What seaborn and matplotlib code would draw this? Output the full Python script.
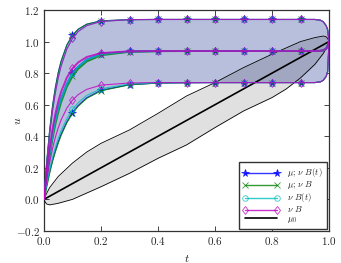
import matplotlib
matplotlib.use("Agg")
import matplotlib.pyplot as plt
from matplotlib.lines import Line2D
import seaborn as sns

# time grid of the solution curves
t = [0, 0.005, 0.01, 0.02, 0.03, 0.04, 0.05, 0.06, 0.08, 0.1, 0.12, 0.15, 0.2,
     0.3, 0.4, 0.5, 0.6, 0.7, 0.8, 0.9, 0.95, 0.97, 0.98, 0.99, 0.995, 1.0]
mark_idx = [9, 12, 13, 14, 15, 16, 17, 18, 19]  # t = 0.1 ... 0.9

# mu; nu B(t)
blue_top = [0, 0.131, 0.246, 0.439, 0.591, 0.709, 0.803, 0.875, 0.977, 1.04, 1.078, 1.11, 1.131,
            1.139, 1.14, 1.14, 1.14, 1.14, 1.14, 1.14, 1.14, 1.135, 1.125, 1.10, 1.075, 1.0]
blue_mid = [0, 0.085, 0.16, 0.295, 0.405, 0.50, 0.575, 0.635, 0.73, 0.80, 0.84, 0.885, 0.92,
            0.937, 0.94, 0.94, 0.94, 0.94, 0.94, 0.94, 0.94, 0.941, 0.945, 0.955, 0.97, 1.0]
blue_low = [0, 0.049, 0.094, 0.176, 0.248, 0.31, 0.365, 0.412, 0.49, 0.55, 0.595, 0.644, 0.691,
            0.727, 0.737, 0.739, 0.74, 0.74, 0.74, 0.74, 0.74, 0.745, 0.755, 0.78, 0.81, 1.0]
# mu; nu B
green_top = [0, 0.131, 0.246, 0.439, 0.591, 0.709, 0.803, 0.875, 0.977, 1.04, 1.078, 1.11, 1.131,
             1.139, 1.14, 1.14, 1.14, 1.14, 1.14, 1.14, 1.14, 1.135, 1.125, 1.10, 1.075, 1.0]
green_mid = [0, 0.08, 0.152, 0.28, 0.387, 0.477, 0.552, 0.615, 0.712, 0.78, 0.827, 0.874, 0.913,
             0.935, 0.939, 0.94, 0.94, 0.94, 0.94, 0.94, 0.94, 0.941, 0.945, 0.955, 0.97, 1.0]
green_low = [0, 0.03, 0.08, 0.165, 0.24, 0.30, 0.355, 0.405, 0.485, 0.545, 0.59, 0.64, 0.688,
             0.726, 0.737, 0.739, 0.74, 0.74, 0.74, 0.74, 0.74, 0.745, 0.755, 0.78, 0.81, 1.0]
# nu B(t)
cyan_top = [0, 0.121, 0.23, 0.413, 0.56, 0.677, 0.771, 0.845, 0.952, 1.02, 1.064, 1.101, 1.127,
            1.139, 1.14, 1.14, 1.14, 1.14, 1.14, 1.14, 1.14, 1.135, 1.125, 1.10, 1.075, 1.0]
cyan_mid = [0, 0.085, 0.16, 0.295, 0.405, 0.50, 0.575, 0.635, 0.73, 0.80, 0.84, 0.885, 0.92,
            0.937, 0.94, 0.94, 0.94, 0.94, 0.94, 0.94, 0.94, 0.941, 0.945, 0.955, 0.97, 1.0]
cyan_low = [0, 0.052, 0.101, 0.189, 0.264, 0.33, 0.385, 0.434, 0.511, 0.57, 0.613, 0.659, 0.701,
            0.731, 0.738, 0.74, 0.74, 0.74, 0.74, 0.74, 0.74, 0.745, 0.755, 0.78, 0.81, 1.0]
# nu B
mag_top = [0, 0.121, 0.23, 0.413, 0.56, 0.677, 0.771, 0.845, 0.952, 1.02, 1.064, 1.101, 1.127,
           1.139, 1.14, 1.14, 1.14, 1.14, 1.14, 1.14, 1.14, 1.135, 1.125, 1.10, 1.075, 1.0]
mag_mid = [0, 0.096, 0.181, 0.328, 0.447, 0.542, 0.619, 0.681, 0.771, 0.83, 0.868, 0.902, 0.927,
           0.938, 0.94, 0.94, 0.94, 0.94, 0.94, 0.94, 0.94, 0.941, 0.945, 0.955, 0.97, 1.0]
mag_low = [0, 0.067, 0.128, 0.234, 0.321, 0.394, 0.454, 0.503, 0.578, 0.629, 0.664, 0.697, 0.724,
           0.7375, 0.74, 0.74, 0.74, 0.74, 0.74, 0.74, 0.74, 0.745, 0.755, 0.78, 0.81, 1.0]

# mu_0 and its band
t0 = [0, 0.005, 0.01, 0.02, 0.05, 0.1, 0.15, 0.2, 0.3, 0.4, 0.5, 0.6, 0.7, 0.8, 0.85,
      0.9, 0.95, 0.98, 0.99, 0.995, 1.0]
mu0 = t0
mu0_low = [0, -0.02, -0.03, -0.035, -0.025, 0.0, 0.04, 0.08, 0.165, 0.26, 0.345, 0.455, 0.56,
           0.645, 0.70, 0.77, 0.855, 0.925, 0.96, 0.98, 1.0]
mu0_up = [0, 0.02, 0.04, 0.075, 0.145, 0.23, 0.30, 0.355, 0.44, 0.545, 0.655, 0.74, 0.835,
          0.92, 0.96, 1.0, 1.025, 1.035, 1.03, 1.02, 1.0]

labels = [r'$\mu$; $\nu$ $B(t)$', r'$\mu$; $\nu$ $B$', r'$\nu$ $B(t)$', r'$\nu$ $B$', r'$\mu_0$']

sns.set_style("ticks")
plt.rcParams['font.family'] = 'serif'
plt.rcParams['font.serif'] = ['cmr10', 'DejaVu Serif']
plt.rcParams['mathtext.fontset'] = 'cm'
plt.rcParams['axes.formatter.use_mathtext'] = True
plt.rcParams['axes.unicode_minus'] = True

fig, ax = plt.subplots(figsize=(3.41, 2.63), dpi=100)
fig.subplots_adjust(left=0.129, right=0.965, bottom=0.122, top=0.962)

ax.fill_between(t, blue_top, blue_low, color='#b8bfdc', lw=0, zorder=1)
ax.fill_between(t0, mu0_low, mu0_up, color='black', alpha=0.12, lw=0, zorder=2)
sns.lineplot(x=t0, y=mu0_up, ax=ax, color='black', lw=0.6, zorder=3)
sns.lineplot(x=t0, y=mu0_low, ax=ax, color='black', lw=0.6, zorder=3)
sns.lineplot(x=t0, y=mu0, ax=ax, color='black', lw=1.2, zorder=4)

series = [
    (blue_top, blue_mid, blue_low, 'b', '*', 'b', 5.5),
    (green_top, green_mid, green_low, 'g', 'x', 'g', 4.5),
    (cyan_top, cyan_mid, cyan_low, 'c', 'o', 'none', 4),
    (mag_top, mag_mid, mag_low, 'm', 'd', 'none', 4.5),
]
handles = []
for (top, mid, low, col, mk, mfc, ms), lab in zip(series, labels):
    for y, lw in [(top, 0.8), (mid, 1.4), (low, 0.8)]:
        sns.lineplot(x=t, y=y, ax=ax, color=col, lw=lw, marker=mk, markevery=mark_idx,
                     markersize=ms, markerfacecolor=mfc, markeredgecolor=col,
                     markeredgewidth=0.6, alpha=0.8, zorder=5)
    handles.append(Line2D([], [], color=col, lw=1.0, marker=mk, markersize=ms,
                          markerfacecolor=mfc, markeredgecolor=col, markeredgewidth=0.6,
                          alpha=0.8))
handles.append(Line2D([], [], color='black', lw=1.2))

ax.set_xlim(0, 1)
ax.set_ylim(-0.2, 1.2)
ax.set_xlabel('$t$', fontsize=8.5)
ax.set_ylabel('$u$', fontsize=8.5)
ax.xaxis.set_label_coords(0.5, -0.1)
ax.yaxis.set_label_coords(-0.075, 0.5)
ax.tick_params(direction='in', top=True, right=True, labelsize=8, length=3.5, width=0.6,
               pad=3)
for s in ax.spines.values():
    s.set_color('#333333')
    s.set_linewidth(0.9)

ax.legend(handles, labels, loc='lower right', numpoints=2, fontsize=6.3, frameon=True,
          fancybox=False, edgecolor='#333333', framealpha=1,
          handlelength=4.2, handletextpad=0.9, labelspacing=0.0, handleheight=0.5,
          borderpad=0.45, borderaxespad=0.25)

plt.savefig('out.png', dpi=100)
